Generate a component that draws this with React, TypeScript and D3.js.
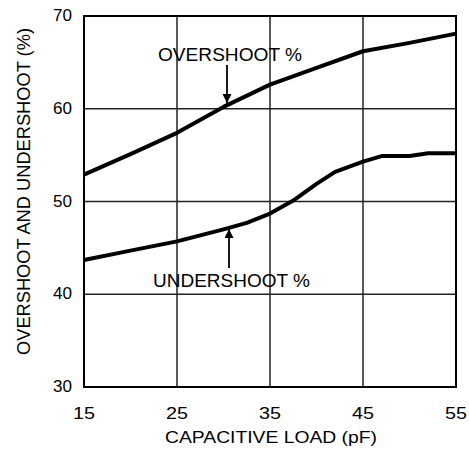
import React from "react";
import * as d3 from "d3";

const xTicks = [15, 25, 35, 45, 55];
const yTicks = [30, 40, 50, 60, 70];
const overLoad = [15, 20, 25, 30, 35, 40, 45, 50, 55];
const overPct = [52.9, 55.1, 57.4, 60.2, 62.6, 64.4, 66.2, 67.1, 68.1];
const underLoad = [15, 20, 25, 30, 32.5, 35, 37.5, 40, 42, 45, 47, 50, 52, 55];
const underPct = [43.7, 44.7, 45.7, 47.0, 47.7, 48.7, 50.1, 51.9, 53.2, 54.3, 54.9, 54.9, 55.2, 55.2];

export default function App() {
  const x = d3.scaleLinear().domain([15, 55]).range([84, 456]);
  const y = d3.scaleLinear().domain([30, 70]).range([387, 16]);
  const line = d3
    .line<[number, number]>()
    .x((d) => x(d[0]))
    .y((d) => y(d[1]));
  const over = overLoad.map((v, i) => [v, overPct[i]] as [number, number]);
  const under = underLoad.map((v, i) => [v, underPct[i]] as [number, number]);
  const font = "Liberation Sans, Arial, sans-serif";
  return (
    <svg
      width={469}
      height={457}
      style={{ position: "absolute", left: 0, top: 0, background: "#fff" }}
    >
      <defs>
        <marker id="ah" viewBox="0 0 10 10" refX="10" refY="5" markerWidth="12" markerHeight="9" orient="auto" markerUnits="userSpaceOnUse">
          <path d="M0,0 L10,5 L0,10 z" fill="#000" />
        </marker>
      </defs>
      {xTicks.map((t) => (
        <line key={"gx" + t} x1={x(t)} x2={x(t)} y1={y(70)} y2={y(30)} stroke="#222" strokeWidth={1.5} />
      ))}
      {yTicks.map((t) => (
        <line key={"gy" + t} x1={x(15)} x2={x(55)} y1={y(t)} y2={y(t)} stroke="#222" strokeWidth={1.5} />
      ))}
      <rect x={x(15)} y={y(70)} width={x(55) - x(15)} height={y(30) - y(70)} fill="none" stroke="#000" strokeWidth={2} />
      <path d={line(over) || ""} fill="none" stroke="#000" strokeWidth={4} strokeLinejoin="round" />
      <path d={line(under) || ""} fill="none" stroke="#000" strokeWidth={4} strokeLinejoin="round" />
      {xTicks.map((t) => (
        <text key={"tx" + t} x={x(t)} y={419} textAnchor="middle" fontFamily={font} fontSize={17} textLength={22} lengthAdjust="spacingAndGlyphs">
          {t}
        </text>
      ))}
      {yTicks.map((t) => (
        <text key={"ty" + t} x={72} y={y(t) + 5} textAnchor="end" fontFamily={font} fontSize={17} textLength={19} lengthAdjust="spacingAndGlyphs">
          {t}
        </text>
      ))}
      <text x={271} y={443} textAnchor="middle" fontFamily={font} fontSize={17} textLength={212} lengthAdjust="spacingAndGlyphs">
        CAPACITIVE LOAD (pF)
      </text>
      <text transform="translate(30,191.5) rotate(-90)" textAnchor="middle" fontFamily={font} fontSize={18.5} textLength={327} lengthAdjust="spacingAndGlyphs">
        OVERSHOOT AND UNDERSHOOT (%)
      </text>
      <text x={158} y={61} fontFamily={font} fontSize={18} textLength={144} lengthAdjust="spacingAndGlyphs">
        OVERSHOOT %
      </text>
      <text x={153} y={287} fontFamily={font} fontSize={18} textLength={157} lengthAdjust="spacingAndGlyphs">
        UNDERSHOOT %
      </text>
      <line x1={227} y1={65} x2={227} y2={103} stroke="#000" strokeWidth={1.8} markerEnd="url(#ah)" />
      <line x1={229} y1={268} x2={229} y2={229} stroke="#000" strokeWidth={1.8} markerEnd="url(#ah)" />
    </svg>
  );
}
